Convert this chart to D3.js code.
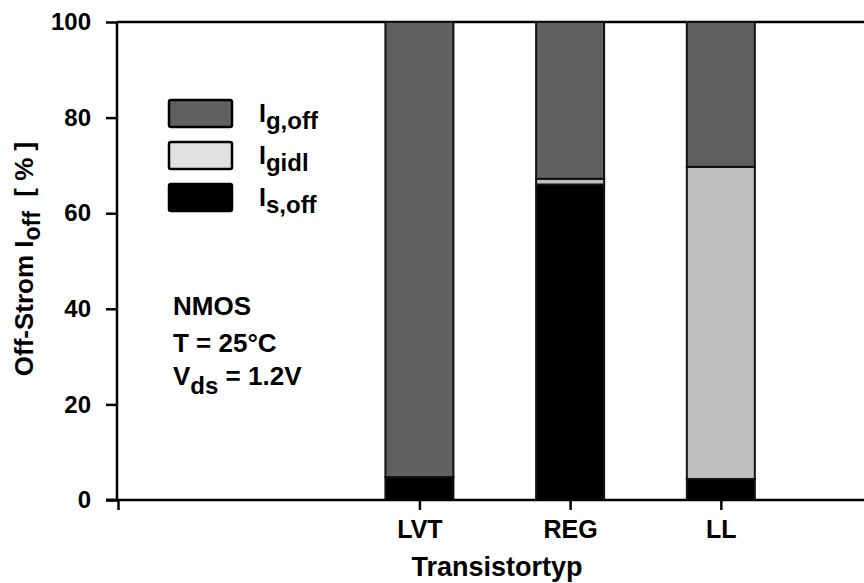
<!DOCTYPE html>
<html>
<head>
<meta charset="utf-8">
<script src="https://cdn.jsdelivr.net/npm/d3@7"></script>
<style>
body { margin: 0; background: #fff; }
text { font-family: Arial, "Liberation Sans", sans-serif; font-weight: bold; fill: #000; }
</style>
</head>
<body>
<div id="chart"></div>
<script>
// data
var categories = ["LVT", "REG", "LL"];
var categorySlot = [2, 3, 4];         // slot index along the x axis
var seriesNames = ["Is,off", "Igidl", "Ig,off"];
var isOff = [4.8, 66.0, 4.4];
var igidl = [0.0, 1.2, 65.3];
var igOff = [95.2, 32.8, 30.3];
var yTicks = [0, 20, 40, 60, 80, 100];

var W = 864, H = 583;
var svg = d3.select("#chart").append("svg").attr("width", W).attr("height", H);

var x = d3.scaleLinear().domain([0, 4.95]).range([118, 864]);
var y = d3.scaleLinear().domain([0, 100]).range([500, 22]);
var barW = 68;

var colors = { "Ig,off": "#606060", "Igidl": "#c0c0c0", "Is,off": "#000000" };
var legendColors = { "Ig,off": "#606060", "Igidl": "#e0e0e0", "Is,off": "#000000" };

var rows = categories.map(function(c, i) {
    return { cat: c, slot: categorySlot[i], "Is,off": isOff[i], "Igidl": igidl[i], "Ig,off": igOff[i] };
});
var stacked = d3.stack().keys(seriesNames)(rows);

// top frame line
svg.append("line").attr("x1", 117).attr("x2", W).attr("y1", y(100)).attr("y2", y(100))
    .attr("stroke", "#000").attr("stroke-width", 2.5);

// bars
var layers = svg.selectAll(".layer").data(stacked).enter().append("g").attr("class", "layer")
    .attr("fill", function(d) { return colors[d.key]; });
layers.selectAll("rect").data(function(d) { return d; }).enter().append("rect")
    .attr("x", function(d) { return x(d.data.slot) - barW / 2; })
    .attr("width", barW)
    .attr("y", function(d) { return y(d[1]); })
    .attr("height", function(d) { return y(d[0]) - y(d[1]); })
    .attr("stroke", "#111").attr("stroke-width", 2);

// axes
var yAxis = d3.axisLeft(y).tickValues(yTicks).tickSize(11).tickPadding(15);
var gy = svg.append("g").attr("transform", "translate(117,0)").call(yAxis);
var xAxis = d3.axisBottom(x).tickValues([0].concat(categorySlot)).tickSize(10).tickPadding(10)
    .tickFormat(function(d) { var i = categorySlot.indexOf(d); return i < 0 ? "" : categories[i]; });
var gx = svg.append("g").attr("transform", "translate(0,500)").call(xAxis);
[gx, gy].forEach(function(g) {
    g.select(".domain").attr("stroke", "#000").attr("stroke-width", 2.5);
    g.selectAll(".tick line").attr("stroke", "#000").attr("stroke-width", 2.5);
    g.selectAll(".tick text").style("font-family", "Arial, 'Liberation Sans', sans-serif").style("font-weight", "bold");
});
gy.selectAll(".tick text").style("font-size", "24px");
gx.selectAll(".tick text").style("font-size", "25px");
gy.select(".domain").attr("d", "M-11,500H0V22");
gx.select(".domain").attr("d", "M106,0H" + W);

// axis titles
svg.append("text").attr("x", 497).attr("y", 576).attr("text-anchor", "middle")
    .style("font-size", "27px").text("Transistortyp");
var yl = svg.append("text").attr("transform", "translate(33,259) rotate(-90)")
    .attr("text-anchor", "middle").style("font-size", "26px");
yl.append("tspan").text("Off-Strom I");
yl.append("tspan").attr("dy", 7).style("font-size", "23px").text("off");
yl.append("tspan").attr("dy", -7).attr("xml:space", "preserve").text("\u00a0\u00a0[ % ]");

// legend
var legendOrder = ["Ig,off", "Igidl", "Is,off"];
var legendSub = ["g,off", "gidl", "s,off"];
var leg = svg.append("g");
legendOrder.forEach(function(k, i) {
    var ly = 100 + i * 42;
    leg.append("rect").attr("x", 169).attr("y", ly).attr("width", 63).attr("height", 27).attr("rx", 2)
        .attr("fill", legendColors[k]).attr("stroke", "#000").attr("stroke-width", 2.5);
    var t = leg.append("text").attr("x", 259).attr("y", ly + 22).style("font-size", "25px");
    t.append("tspan").text("I");
    t.append("tspan").attr("dy", 7).style("font-size", "24px").text(legendSub[i]);
});

// annotation
var note = svg.append("g").style("font-size", "26px");
note.append("text").attr("x", 173).attr("y", 315).text("NMOS");
note.append("text").attr("x", 173).attr("y", 352).text("T = 25°C");
var v = note.append("text").attr("x", 173).attr("y", 385);
v.append("tspan").text("V");
v.append("tspan").attr("dy", 9).style("font-size", "24px").text("ds");
v.append("tspan").attr("dy", -9).text(" = 1.2V");
</script>
</body>
</html>
